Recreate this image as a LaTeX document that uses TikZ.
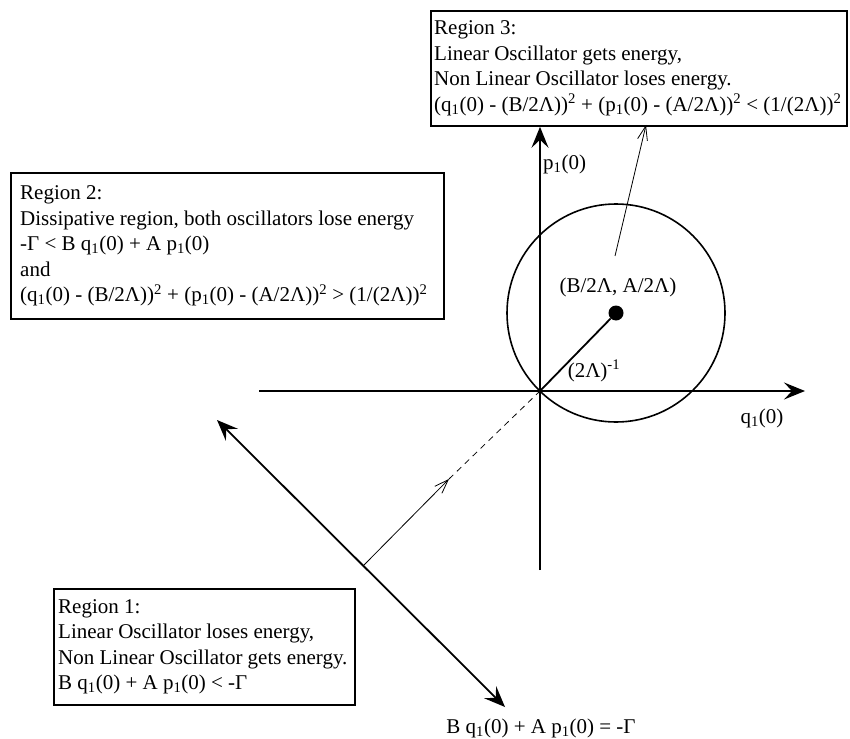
\documentclass[tikz,border=0pt]{standalone}
\usepackage{fontspec}
\setmainfont{Liberation Serif}
\usetikzlibrary{arrows.meta}
\begin{document}
\begin{tikzpicture}[x=1pt,y=-1pt,
  every node/.style={font=\fontsize{21}{25.5}\selectfont, inner sep=0pt},
  regionbox/.style={draw, line width=1.8pt, anchor=north west},
  boxtext/.style={anchor=west, align=left},
  axis/.style={line width=1.8pt, -{Stealth[length=21pt,width=17pt,inset=8pt]}},
  boundary/.style={line width=1.8pt, {Stealth[length=21pt,width=17pt,inset=8pt]}-{Stealth[length=21pt,width=17pt,inset=8pt]}},
  thinarrow/.style={line width=0.8pt, -{Straight Barb[length=14pt,width=10pt]}},
  dashline/.style={line width=0.8pt, dash pattern=on 6pt off 5pt},
]
\useasboundingbox (0,0) rectangle (850,738);

% region boxes
\node[regionbox, minimum width=416pt, minimum height=115pt] (r3) at (430,10) {};
\node[boxtext] (r3text) at ([xshift=4pt]r3.west) {Region 3:\\
Linear Oscillator gets energy,\\
Non Linear Oscillator loses energy.\\
(q\textsubscript{1}(0) - (B/2Λ))\textsuperscript{2} + (p\textsubscript{1}(0) - (A/2Λ))\textsuperscript{2} < (1/(2Λ))\textsuperscript{2}};

\node[regionbox, minimum width=433pt, minimum height=146pt] (r2) at (10,172) {};
\node[boxtext] (r2text) at ([xshift=10pt]r2.west) {Region 2:\\
Dissipative region, both oscillators lose energy\\
-Γ < B q\textsubscript{1}(0) + A p\textsubscript{1}(0)\\
and\\
(q\textsubscript{1}(0) - (B/2Λ))\textsuperscript{2} + (p\textsubscript{1}(0) - (A/2Λ))\textsuperscript{2} > (1/(2Λ))\textsuperscript{2}};

\node[regionbox, minimum width=301pt, minimum height=116pt] (r1) at (53,588) {};
\node[boxtext] (r1text) at ([xshift=5pt]r1.west) {Region 1:\\
Linear Oscillator loses energy,\\
Non Linear Oscillator gets energy.\\
B q\textsubscript{1}(0) + A p\textsubscript{1}(0) < -Γ};

% axes
\coordinate (O) at (540,391);
\coordinate (xl) at (259,391);
\coordinate (xr) at (805,391);
\coordinate (yb) at (540,570);
\draw[axis] (xl) -- (xr);
\draw[axis] (yb) -- (O |- r3.south);
\node[anchor=west] (plab) at (543,164) {p\textsubscript{1}(0)};
\node (qlab) at (762,418) {q\textsubscript{1}(0)};

% circle
\node[circle, fill, minimum size=15pt] (C) at (616,313) {};
\draw[line width=1.6pt] (C.center) circle[radius=109pt];
\draw[line width=1.8pt] (O) -- (C);
\node (clab) at (618,287) {(B/2Λ, A/2Λ)};
\node (rlab) at (594,371) {(2Λ)\textsuperscript{-1}};

% arrow to region 3
\coordinate (a3s) at (615,256);
\coordinate (a3e) at (646,125);
\draw[thinarrow] (a3s) -- (a3e);

% boundary line
\coordinate (L1) at (217,420);
\coordinate (L2) at (505,707);
\draw[boundary] (L1) -- (L2);
\coordinate (P) at (364,565);
\coordinate (T) at (449,479);
\draw[thinarrow] (P) -- (T);
\draw[dashline] (T) -- (O);
\node (blab) at (541,728) {B q\textsubscript{1}(0) + A p\textsubscript{1}(0) = -Γ};
\end{tikzpicture}
\end{document}
